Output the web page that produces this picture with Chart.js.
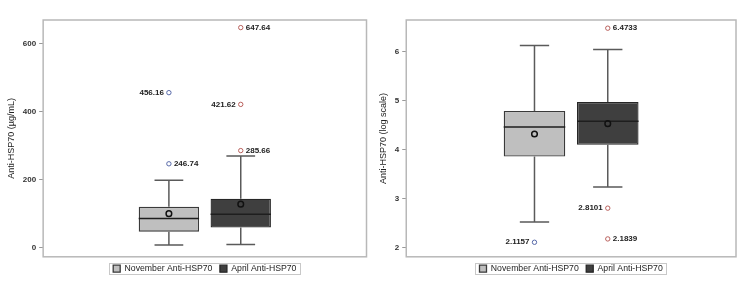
<!DOCTYPE html>
<html>
<head>
<meta charset="utf-8">
<script src="https://cdn.jsdelivr.net/npm/chart.js@4.4.1/dist/chart.umd.min.js"></script>
<style>
  body { margin: 0; background: #fff; }
  .panel { position: absolute; top: 0; width: 372px; height: 281px; }
</style>
</head>
<body>
<div class="panel" style="left:0"><canvas id="rawChart" width="372" height="281"></canvas></div>
<div class="panel" style="left:372px"><canvas id="logChart" width="372" height="281"></canvas></div>
<script>
// grupos (noviembre / abril)
const categorias = ['November Anti-HSP70', 'April Anti-HSP70'];
const xPos = [1, 2];

// panel izquierdo: ug/mL
const rawLow = [8, 9];
const rawQ1 = [47, 59];
const rawMed = [86, 98];
const rawQ3 = [120, 144];
const rawHigh = [198, 270];
const rawMean = [100, 128];
const rawOutNov = [456.16, 246.74];
const rawOutApr = [647.64, 421.62, 285.66];
const rawTicks = [0, 200, 400, 600];

// panel derecho: escala log
const logLow = [2.53, 3.24];
const logQ1 = [3.86, 4.10];
const logMed = [4.46, 4.58];
const logQ3 = [4.79, 4.97];
const logHigh = [6.12, 6.04];
const logMean = [4.32, 4.53];
const logOutNov = [2.1157];
const logOutApr = [6.4733, 2.8101, 2.1839];
const logTicks = [2, 3, 4, 5, 6];

const FONT = 'Liberation Sans';
const boxColors = ['#bfbfbf', '#3f3f3f'];
const outColors = ['#5668a8', '#b9605c'];

// dibuja el marco del area del grafico
const marcoPlugin = {
  id: 'marco',
  afterDatasetsDraw(chart) {
    const a = chart.chartArea, ctx = chart.ctx;
    ctx.save();
    ctx.strokeStyle = '#b8b8b8';
    ctx.lineWidth = 1.5;
    ctx.strokeRect(a.left, a.top, a.right - a.left, a.bottom - a.top);
    ctx.restore();
  },
  afterDraw(chart) {
    // marco alrededor de la leyenda
    const boxes = chart.legend.legendHitBoxes;
    if (!boxes || !boxes.length) return;
    const l = Math.min(...boxes.map(b => b.left)) - 4;
    const r = Math.max(...boxes.map(b => b.left + b.width)) + 4;
    const t = Math.min(...boxes.map(b => b.top)) - 1;
    const bt = Math.max(...boxes.map(b => b.top + b.height)) + 1;
    const ctx = chart.ctx;
    ctx.save();
    ctx.strokeStyle = '#c8c8c8';
    ctx.lineWidth = 1;
    ctx.strokeRect(Math.round(l) + 0.5, Math.round(t) + 0.5, Math.round(r - l), Math.round(bt - t));
    ctx.restore();
  }
};

// etiquetas de los valores atipicos
const etiquetasPlugin = {
  id: 'etiquetas',
  afterDatasetsDraw(chart) {
    const ctx = chart.ctx;
    ctx.save();
    ctx.font = 'bold 8px "' + FONT + '"';
    ctx.fillStyle = '#222';
    ctx.textBaseline = 'middle';
    chart.data.datasets.forEach((ds, i) => {
      if (!ds.lados) return;
      const meta = chart.getDatasetMeta(i);
      meta.data.forEach((pt, j) => {
        const txt = String(ds.data[j].y);
        if (ds.lados[j] === 'L') {
          ctx.textAlign = 'right';
          ctx.fillText(txt, pt.x - 5, pt.y);
        } else {
          ctx.textAlign = 'left';
          ctx.fillText(txt, pt.x + 5, pt.y);
        }
      });
    });
    ctx.restore();
  }
};

function whiskerData(low, q1, q3, high) {
  const pts = [];
  xPos.forEach((x, i) => {
    pts.push({x: x, y: low[i]}, {x: x, y: q1[i]}, {x: x, y: null});
    pts.push({x: x, y: q3[i]}, {x: x, y: high[i]}, {x: x, y: null});
    pts.push({x: x - 0.2, y: low[i]}, {x: x + 0.2, y: low[i]}, {x: x, y: null});
    pts.push({x: x - 0.2, y: high[i]}, {x: x + 0.2, y: high[i]}, {x: x, y: null});
  });
  return pts;
}

function medianData(med) {
  const pts = [];
  xPos.forEach((x, i) => {
    pts.push({x: x - 0.42, y: med[i]}, {x: x + 0.42, y: med[i]}, {x: x, y: null});
  });
  return pts;
}

function crearGrafico(id, s, tituloY, yMin, yMax, ticks, pad) {
  const ctx = document.getElementById(id).getContext('2d');
  return new Chart(ctx, {
    type: 'bar',
    data: {
      datasets: [
        {
          label: categorias[0],
          data: [{x: xPos[0], y: [s.q1[0], s.q3[0]]}],
          backgroundColor: boxColors[0], borderColor: '#3a3a3a', borderWidth: 1.3,
          borderSkipped: false, grouped: false, order: 4
        },
        {
          label: categorias[1],
          data: [{x: xPos[1], y: [s.q1[1], s.q3[1]]}],
          backgroundColor: boxColors[1], borderColor: '#262626', borderWidth: 1.3,
          borderSkipped: false, grouped: false, order: 4
        },
        {
          type: 'line', label: 'bigotes', data: whiskerData(s.low, s.q1, s.q3, s.high),
          borderColor: '#5a5a5a', borderWidth: 1.5, pointRadius: 0, spanGaps: false, order: 3
        },
        {
          type: 'line', label: 'mediana', data: medianData(s.med),
          borderColor: '#1e1e1e', borderWidth: 1.5, pointRadius: 0, spanGaps: false, order: 2
        },
        {
          type: 'scatter', label: 'media',
          data: xPos.map((x, i) => ({x: x, y: s.mean[i]})),
          pointRadius: 2.8, pointBorderWidth: 1.5, pointBorderColor: '#111',
          pointBackgroundColor: 'rgba(0,0,0,0)', order: 1
        },
        {
          type: 'scatter', label: 'out1',
          data: s.outNov.map(v => ({x: xPos[0], y: v})), lados: s.ladosNov,
          pointRadius: 2.2, pointBorderWidth: 1, pointBorderColor: outColors[0],
          pointBackgroundColor: '#fff', order: 0
        },
        {
          type: 'scatter', label: 'out2',
          data: s.outApr.map(v => ({x: xPos[1], y: v})), lados: s.ladosApr,
          pointRadius: 2.2, pointBorderWidth: 1, pointBorderColor: outColors[1],
          pointBackgroundColor: '#fff', order: 0
        }
      ]
    },
    options: {
      responsive: false,
      animation: false,
      categoryPercentage: 1,
      barPercentage: 0.84,
      layout: { padding: { top: 20, right: pad.right, left: pad.left, bottom: -2 } },
      plugins: {
        tooltip: { enabled: false },
        legend: {
          position: 'bottom',
          fullSize: false,
          onClick: null,
          labels: {
            filter: item => categorias.includes(item.text),
            font: { family: FONT, size: 8.7 },
            color: '#222',
            boxWidth: 7, boxHeight: 7, padding: 7.5
          }
        }
      },
      scales: {
        x: {
          type: 'linear', min: -0.75, max: 3.75, display: false, offset: false,
          afterBuildTicks: sc => { sc.ticks = xPos.map(v => ({value: v})); }
        },
        y: {
          min: yMin, max: yMax,
          afterBuildTicks: sc => { sc.ticks = ticks.map(v => ({value: v})); },
          border: { display: false },
          grid: { drawOnChartArea: false, tickLength: 4, color: '#999' },
          ticks: { font: { family: FONT, size: 8, weight: 'bold' }, color: '#333', padding: 3 },
          title: {
            display: true, text: tituloY,
            font: { family: FONT, size: 9 }, color: '#222',
            padding: { top: 4, bottom: 3 }
          }
        }
      }
    },
    plugins: [marcoPlugin, etiquetasPlugin]
  });
}

crearGrafico('rawChart', {
  low: rawLow, q1: rawQ1, med: rawMed, q3: rawQ3, high: rawHigh, mean: rawMean,
  outNov: rawOutNov, outApr: rawOutApr, ladosNov: ['L', 'R'], ladosApr: ['R', 'L', 'R']
}, 'Anti-HSP70 (µg/mL)', -27, 670, rawTicks, {left: 2, right: 2});

crearGrafico('logChart', {
  low: logLow, q1: logQ1, med: logMed, q3: logQ3, high: logHigh, mean: logMean,
  outNov: logOutNov, outApr: logOutApr, ladosNov: ['L'], ladosApr: ['R', 'L', 'R']
}, 'Anti-HSP70 (log scale)', 1.82, 6.64, logTicks, {left: 2, right: 8});
</script>
</body>
</html>
